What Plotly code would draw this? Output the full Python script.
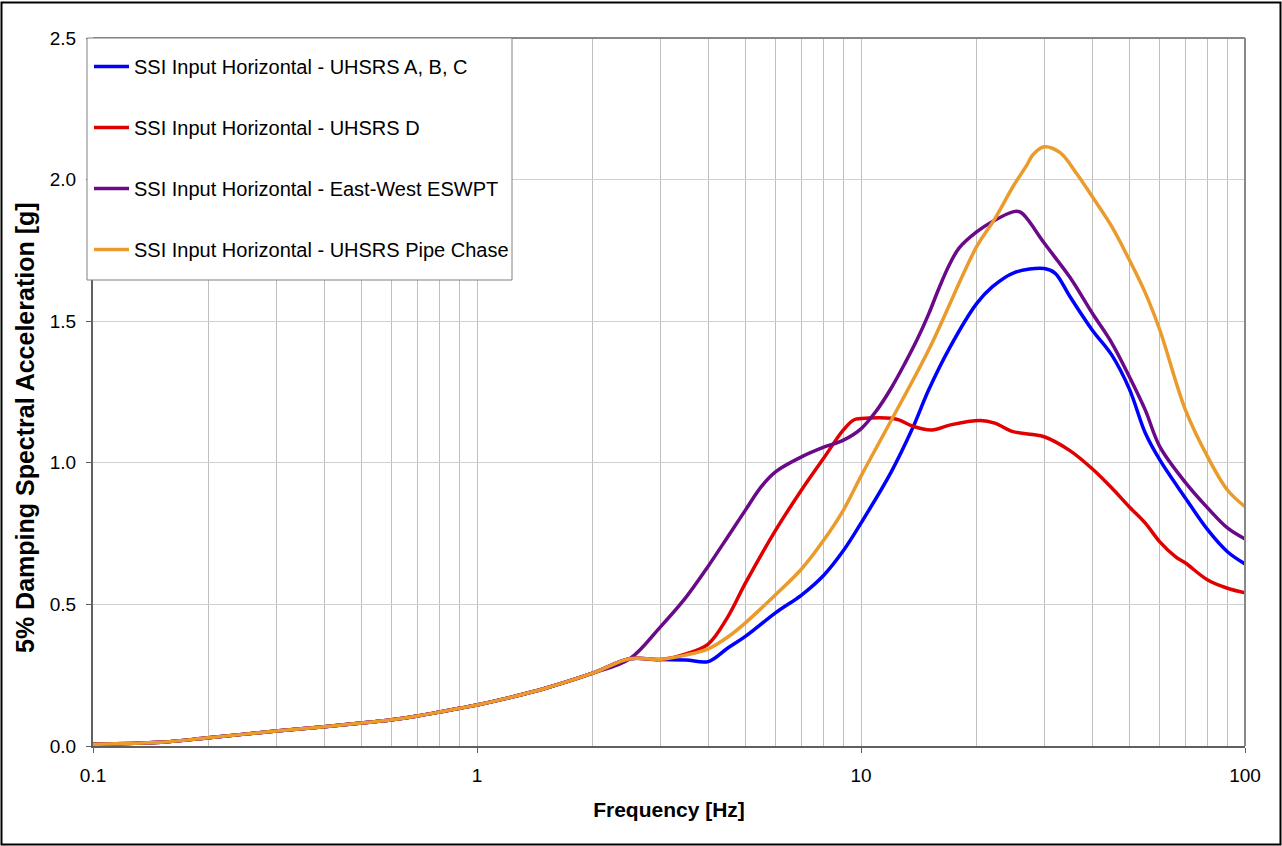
import plotly.graph_objects as go

# Frequency grid (Hz) shared by the low-frequency part of every spectrum
freq_low = [0.1, 0.15, 0.2, 0.3, 0.4, 0.5, 0.6, 0.7, 0.8, 0.9, 1.0, 1.25, 1.5, 2.0, 2.5]
sa_low = [0.006, 0.013, 0.029, 0.053, 0.068, 0.081, 0.093, 0.106, 0.12, 0.133, 0.145,
          0.175, 0.203, 0.257, 0.308]

# UHSRS A, B, C
freq_abc = [3.0, 3.5, 4.0, 4.5, 5.0, 6.0, 7.0, 8.0, 9.0, 10.0, 12.0, 13.6, 15.0, 17.0,
            20.0, 22.0, 25.0, 30.0, 32.0, 35.0, 40.0, 45.0, 50.0, 55.0, 60.0, 70.0,
            80.0, 90.0, 100.0]
sa_abc = [0.305, 0.304, 0.298, 0.346, 0.387, 0.471, 0.533, 0.603, 0.69, 0.787, 0.969,
          1.12, 1.257, 1.405, 1.562, 1.622, 1.671, 1.686, 1.67, 1.587, 1.469, 1.38,
          1.26, 1.105, 1.01, 0.875, 0.763, 0.686, 0.643]

# UHSRS D
freq_d = [3.0, 3.5, 4.0, 4.5, 5.0, 6.0, 7.0, 8.0, 9.0, 9.6, 10.5, 12.0, 12.6, 13.6,
          15.3, 17.1, 20.5, 22.3, 24.9, 28.0, 30.0, 35.0, 40.0, 45.0, 50.0, 55.0,
          60.0, 66.0, 70.0, 80.0, 90.0, 100.0]
sa_d = [0.305, 0.325, 0.36, 0.456, 0.575, 0.763, 0.904, 1.017, 1.116, 1.152, 1.158,
        1.157, 1.151, 1.13, 1.116, 1.134, 1.149, 1.14, 1.11, 1.1, 1.092, 1.043,
        0.979, 0.911, 0.844, 0.787, 0.721, 0.668, 0.646, 0.586, 0.557, 0.541]

# East-West ESWPT
freq_ew = [3.0, 3.5, 4.0, 4.5, 5.0, 5.5, 6.0, 7.0, 8.0, 9.0, 10.0, 11.0, 12.0, 13.0,
           14.0, 15.0, 16.0, 17.0, 18.0, 20.0, 22.0, 25.0, 26.0, 27.0, 30.0, 35.0,
           40.0, 45.0, 50.0, 55.0, 60.0, 70.0, 80.0, 90.0, 100.0]
sa_ew = [0.42, 0.525, 0.635, 0.739, 0.833, 0.916, 0.969, 1.021, 1.055, 1.08, 1.12,
         1.186, 1.265, 1.35, 1.435, 1.525, 1.62, 1.70, 1.758, 1.815, 1.852, 1.887,
         1.885, 1.864, 1.776, 1.655, 1.529, 1.423, 1.304, 1.186, 1.057, 0.93, 0.84,
         0.77, 0.731]

# UHSRS Pipe Chase
freq_pc = [3.0, 3.5, 4.0, 4.5, 5.0, 6.0, 7.0, 8.0, 9.0, 10.0, 12.0, 15.0, 20.0, 22.2,
           25.0, 27.0, 28.0, 30.0, 33.0, 36.5, 40.0, 45.0, 50.0, 55.0, 60.0, 70.0,
           80.0, 90.0, 100.0]
sa_pc = [0.306, 0.321, 0.343, 0.385, 0.435, 0.535, 0.625, 0.727, 0.833, 0.953, 1.151,
         1.398, 1.763, 1.857, 1.98, 2.05, 2.087, 2.116, 2.095, 2.02, 1.94, 1.834,
         1.716, 1.6, 1.469, 1.186, 1.02, 0.904, 0.845]

series_names = [
    "SSI Input Horizontal - UHSRS A, B, C",
    "SSI Input Horizontal - UHSRS D",
    "SSI Input Horizontal - East-West ESWPT",
    "SSI Input Horizontal - UHSRS Pipe Chase",
]
series_colors = ["#0000FF", "#E00000", "#6A0A88", "#EB9B2B"]
series_freq = [freq_abc, freq_d, freq_ew, freq_pc]
series_sa = [sa_abc, sa_d, sa_ew, sa_pc]

x_tickvals = [0.1, 1, 10, 100]
x_ticktext = ["0.1", "1", "10", "100"]
x_minor = [m * 10 ** e for e in (-1, 0, 1) for m in range(2, 10)]
y_tickvals = [0.0, 0.5, 1.0, 1.5, 2.0, 2.5]

FONT = "Liberation Sans, Arial, sans-serif"

fig = go.Figure()
for i, (name, color, fr, sa) in enumerate(zip(series_names, series_colors, series_freq, series_sa)):
    fig.add_trace(go.Scatter(
        x=freq_low + fr,
        y=sa_low + sa,
        mode="lines",
        name=name,
        legendgroup=f"g{i}",
        line=dict(color=color, width=3.5, shape="spline", smoothing=1.0),
    ))

W, H = 1282, 846
L, R, T, B = 93, 37, 38, 100
pw, ph = W - L - R, H - T - B


def px(xp):
    return (xp - L) / pw


def py(yp):
    return (H - B - yp) / ph


fig.update_layout(
    width=W, height=H,
    margin=dict(l=L, r=R, t=T, b=B, pad=0),
    paper_bgcolor="white",
    plot_bgcolor="white",
    font=dict(family=FONT, color="black", size=19),
    showlegend=True,
    legend=dict(
        x=px(89), y=py(47), xanchor="left", yanchor="top",
        bgcolor="rgba(0,0,0,0)", borderwidth=0,
        font=dict(family=FONT, size=20, color="black"),
        traceorder="grouped", tracegroupgap=32,
        itemwidth=35,
    ),
    xaxis=dict(
        type="log", range=[-1, 2],
        tickvals=x_tickvals, ticktext=x_ticktext,
        ticks="outside", ticklen=5, tickcolor="#606060", tickwidth=1,
        showline=True, linecolor="#606060", linewidth=2,
        showgrid=True, gridcolor="#BFBFBF", gridwidth=1,
        minor=dict(tickvals=x_minor, showgrid=True, gridcolor="#BFBFBF", gridwidth=1, ticks=""),
        tickfont=dict(size=19),
        ticklabelstandoff=6,
        title=dict(text="Frequency [Hz]", font=dict(size=21, weight="bold"), standoff=18),
        zeroline=False,
    ),
    yaxis=dict(
        range=[0, 2.5],
        tickvals=y_tickvals, tickformat=".1f",
        ticks="outside", ticklen=5, tickcolor="#606060", tickwidth=1,
        showline=True, linecolor="#606060", linewidth=2,
        showgrid=True, gridcolor="#D0D0D0", gridwidth=1,
        tickfont=dict(size=19),
        ticklabelstandoff=6,
        zeroline=False,
    ),
    annotations=[dict(
        text="5% Damping Spectral Acceleration [g]",
        xref="paper", yref="paper", x=px(25), y=py(428),
        xanchor="center", yanchor="middle", textangle=-90, showarrow=False,
        font=dict(family=FONT, size=25, weight="bold", color="black"),
    )],
)

# Plot-area frame on the top and right sides
fig.add_shape(type="line", xref="paper", yref="paper", x0=0, x1=1, y0=1, y1=1,
              line=dict(color="#888888", width=2), layer="above")
fig.add_shape(type="line", xref="paper", yref="paper", x0=1, x1=1, y0=0, y1=1,
              line=dict(color="#888888", width=2), layer="above")
# Legend box
fig.add_shape(type="rect", xref="paper", yref="paper",
              x0=px(87), x1=px(512), y0=py(280), y1=py(38),
              line=dict(color="#808080", width=1), fillcolor="white", layer="above")
# Outer chart border
fig.add_shape(type="rect", xref="paper", yref="paper",
              x0=px(1.5), x1=px(1280.5), y0=py(844.5), y1=py(2.5),
              line=dict(color="black", width=2), fillcolor="rgba(0,0,0,0)", layer="above")

fig.write_html("out.html")
